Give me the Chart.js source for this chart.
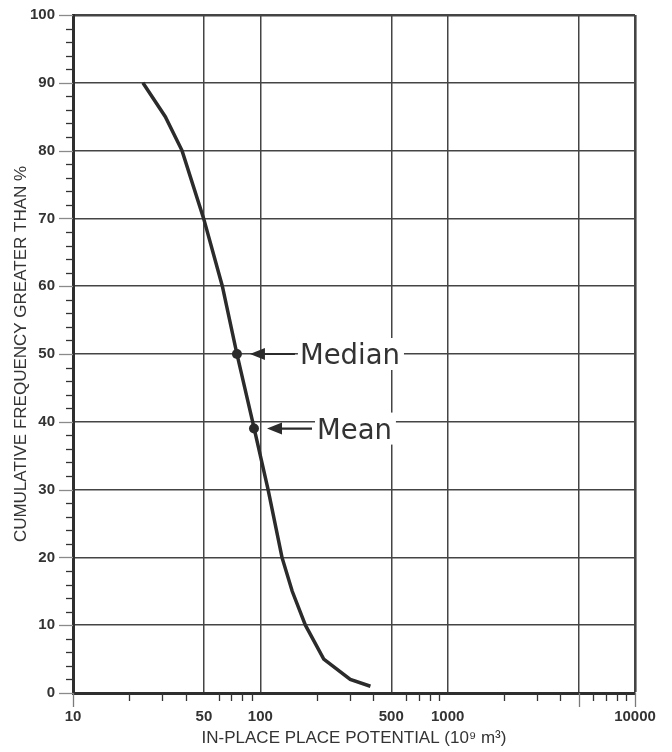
<!DOCTYPE html>
<html>
<head>
<meta charset="utf-8">
<script src="https://cdn.jsdelivr.net/npm/chart.js@4.4.1/dist/chart.umd.min.js"></script>
<style>
  html, body { margin: 0; padding: 0; background: #fff; }
  #wrap { width: 672px; height: 752px; }
</style>
</head>
<body>
<div id="wrap"><canvas id="chart"></canvas></div>
<script>
// curve
var potential = [23.6, 31.1, 38.2, 49.8, 62.7, 75, 91, 110, 130.5, 148, 174, 218, 302, 387];
var frequency = [90, 85, 80, 70, 60, 50, 40, 30, 20, 15, 10, 5, 2, 1];

// marked points
var markerNames = ["Median", "Mean"];
var markerX = [75, 92.5];
var markerY = [50, 39];

// axis ticks
var xGridValues = [10, 50, 100, 500, 1000, 5000, 10000];
var xLabelValues = [10, 50, 100, 500, 1000, 10000];
var xLongTicks = [10, 5000, 10000];
var xMinorTicks = [20, 30, 40, 60, 70, 80, 90, 200, 300, 400, 600, 700, 800, 900,
                   2000, 3000, 4000, 6000, 7000, 8000, 9000];

var curvePts = [];
for (var i = 0; i < potential.length; i++) {
    curvePts.push({x: potential[i], y: frequency[i]});
}
var markerPts = [];
for (var j = 0; j < markerX.length; j++) {
    markerPts.push({x: markerX[j], y: markerY[j]});
}

var ink = "#2b2b2b";
var gridCol = "#444";

// tick marks outside the plot
var tickMarks = {
    id: "tickMarks",
    afterDraw: function(chart) {
        var ctx = chart.ctx;
        var a = chart.chartArea;
        var xs = chart.scales.x, ys = chart.scales.y;
        ctx.save();
        ctx.lineWidth = 1.3;
        for (var v = 0; v <= 100; v += 2) {
            var py = Math.round(ys.getPixelForValue(v)) + 0.5;
            ctx.beginPath();
            if (v % 10 === 0) {
                ctx.strokeStyle = "#8a8a8a";
                ctx.moveTo(a.left - 14, py);
            } else {
                ctx.strokeStyle = "#333";
                ctx.moveTo(a.left - 7, py);
            }
            ctx.lineTo(a.left, py);
            ctx.stroke();
        }
        ctx.strokeStyle = "#333";
        xMinorTicks.forEach(function(t) {
            var px = Math.round(xs.getPixelForValue(t)) + 0.5;
            ctx.beginPath();
            ctx.moveTo(px, a.bottom);
            ctx.lineTo(px, a.bottom + 8);
            ctx.stroke();
        });
        ctx.strokeStyle = "#7a7a7a";
        xLongTicks.forEach(function(t) {
            var px = Math.round(xs.getPixelForValue(t)) + 0.5;
            ctx.beginPath();
            ctx.moveTo(px, a.bottom);
            ctx.lineTo(px, a.bottom + 14);
            ctx.stroke();
        });
        ctx.restore();
    }
};

// arrows and words for the two marked points
var callouts = {
    id: "callouts",
    afterDatasetsDraw: function(chart) {
        var ctx = chart.ctx;
        var xs = chart.scales.x, ys = chart.scales.y;
        ctx.save();
        ctx.font = '27.5px "DejaVu Sans", sans-serif';
        for (var k = 0; k < markerNames.length; k++) {
            var px = xs.getPixelForValue(markerX[k]);
            var py = ys.getPixelForValue(markerY[k]);
            var tip = px + 13, base = px + 28, end = px + 58, tx = px + 63;
            var w = ctx.measureText(markerNames[k]).width;
            ctx.fillStyle = "#fff";
            ctx.fillRect(tx - 2, py - 16, w + 6, 32);
            ctx.fillStyle = "#333";
            ctx.fillText(markerNames[k], tx, py + 10);
            ctx.strokeStyle = ink;
            ctx.lineWidth = 2.2;
            ctx.beginPath();
            ctx.moveTo(base - 2, py);
            ctx.lineTo(end, py);
            ctx.stroke();
            ctx.fillStyle = ink;
            ctx.beginPath();
            ctx.moveTo(tip, py);
            ctx.lineTo(base, py - 6);
            ctx.lineTo(base, py + 6);
            ctx.closePath();
            ctx.fill();
        }
        ctx.restore();
    }
};

var ctx1 = document.getElementById("chart");
var chart1 = new Chart(ctx1, {
    type: "scatter",
    data: {
        datasets: [
            {
                label: "curve",
                data: curvePts,
                showLine: true,
                borderColor: ink,
                borderWidth: 3.5,
                pointRadius: 0,
                tension: 0
            },
            {
                label: "markers",
                data: markerPts,
                showLine: false,
                pointRadius: 5,
                pointBackgroundColor: ink,
                pointBorderWidth: 0
            }
        ]
    },
    options: {
        responsive: true,
        maintainAspectRatio: false,
        animation: false,
        layout: { padding: { top: 15, right: 37, left: 0, bottom: 0 } },
        plugins: {
            legend: { display: false },
            tooltip: { enabled: false }
        },
        scales: {
            x: {
                type: "logarithmic",
                min: 10,
                max: 10000,
                afterBuildTicks: function(scale) {
                    scale.ticks = xGridValues.map(function(v) { return {value: v}; });
                },
                afterFit: function(scale) {
                    scale.height = 59;
                    scale.paddingLeft = 0;
                    scale.paddingRight = 0;
                },
                ticks: {
                    autoSkip: false,
                    maxRotation: 0,
                    padding: 15,
                    color: "#333",
                    font: { family: '"Liberation Sans", Arial, sans-serif', size: 15, weight: "bold" },
                    callback: function(value) {
                        return xLabelValues.indexOf(value) >= 0 ? String(value) : "";
                    }
                },
                grid: {
                    color: gridCol,
                    drawTicks: false,
                    lineWidth: function(c) { return c.tick && c.tick.value === 10000 ? 2.6 : 1.5; }
                },
                border: { display: true, color: "#2e2e2e", width: 3 },
                title: {
                    display: true,
                    text: "IN-PLACE PLACE POTENTIAL (10\u2079 m\u00b3)",
                    color: "#333",
                    padding: { top: 0, bottom: 3 },
                    font: { family: '"Liberation Sans", Arial, sans-serif', size: 17 }
                }
            },
            y: {
                min: 0,
                max: 100,
                afterFit: function(scale) {
                    scale.width = 73;
                    scale.paddingTop = 0;
                    scale.paddingBottom = 0;
                },
                ticks: {
                    stepSize: 10,
                    padding: 18,
                    color: "#333",
                    font: { family: '"Liberation Sans", Arial, sans-serif', size: 15, weight: "bold" }
                },
                grid: {
                    color: gridCol,
                    drawTicks: false,
                    lineWidth: function(c) { return c.tick && c.tick.value === 100 ? 2.6 : 1.5; }
                },
                border: { display: true, color: "#2e2e2e", width: 3 },
                title: {
                    display: true,
                    text: "CUMULATIVE FREQUENCY GREATER THAN %",
                    color: "#333",
                    padding: { top: 11, bottom: 0 },
                    font: { family: '"Liberation Sans", Arial, sans-serif', size: 17 }
                }
            }
        }
    },
    plugins: [tickMarks, callouts]
});
</script>
</body>
</html>
